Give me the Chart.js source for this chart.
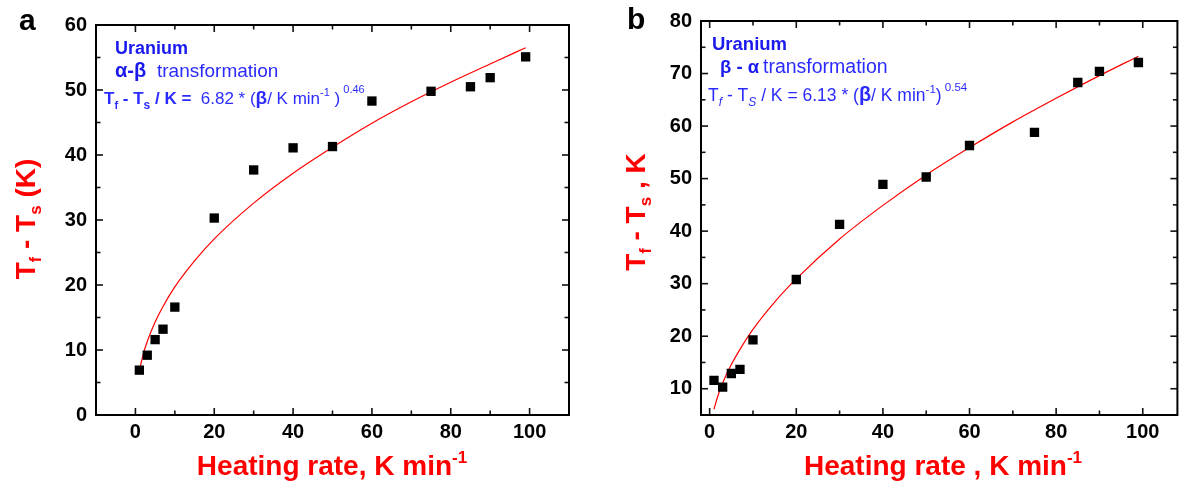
<!DOCTYPE html>
<html>
<head>
<meta charset="utf-8">
<script src="https://cdn.jsdelivr.net/npm/chart.js@4.4.1/dist/chart.umd.min.js"></script>
<style>
  html, body { margin: 0; padding: 0; background: #fff; }
  #wrap { position: relative; width: 1184px; height: 485px; overflow: hidden; }
  canvas { position: absolute; top: 0; }
</style>
</head>
<body>
<div id="wrap">
  <canvas id="chartA" width="592" height="485" style="left:0px"></canvas>
  <canvas id="chartB" width="592" height="485" style="left:592px"></canvas>
</div>
<script>
// ---------------- DATA ----------------
// Panel a: alpha -> beta transformation
const rateA  = [1, 3, 5, 7, 10, 20, 30, 40, 50, 60, 75, 85, 90, 99];
const deltaA = [6.9, 9.2, 11.6, 13.2, 16.6, 30.3, 37.7, 41.1, 41.3, 48.3, 49.8, 50.5, 51.9, 55.1];
const fitRateA = [1, 2, 3, 5, 7, 10, 15, 20, 30, 40, 50, 60, 70, 80, 90, 99];
const fitA     = [6.8, 9.4, 11.3, 14.3, 16.7, 19.7, 23.7, 27.1, 32.6, 37.2, 41.2, 44.9, 48.2, 51.2, 54.0, 56.5];

// Panel b: beta -> alpha transformation
const rateB  = [1, 3, 5, 7, 10, 20, 30, 40, 50, 60, 75, 85, 90, 99];
const deltaB = [11.6, 10.3, 12.9, 13.7, 19.3, 30.8, 41.3, 48.9, 50.3, 56.3, 58.8, 68.3, 70.4, 72.1];
const fitRateB = [1, 2, 3, 5, 7, 10, 15, 20, 30, 40, 50, 60, 70, 80, 90, 99];
const fitB     = [6.1, 8.9, 11.1, 14.6, 17.5, 21.3, 26.5, 30.9, 38.5, 44.9, 50.7, 55.9, 60.8, 65.3, 69.6, 73.3];

// Tick labels / marks
const xTicks  = [0, 20, 40, 60, 80, 100];
const xMinor  = [10, 30, 50, 70, 90];
const yTicksA = [0, 10, 20, 30, 40, 50, 60];
const yMinorA = [5, 15, 25, 35, 45, 55];
const yTicksB = [10, 20, 30, 40, 50, 60, 70, 80];
const yMinorB = [15, 25, 35, 45, 55, 65, 75];

// ---------------- HELPERS ----------------
const FF = '"Liberation Sans", Arial, Helvetica, sans-serif';
const F = (size, weight = 'normal', style = 'normal') => `${style} ${weight} ${size}px ${FF}`;
const BLUE = '#1a1aee';
const BLUE2 = '#2b2bff';
const RED = '#ff0000';

function richWidth(ctx, segs) {
  let w = 0;
  for (const s of segs) { ctx.font = s.f; w += ctx.measureText(s.t).width; }
  return w;
}
function drawRich(ctx, x, y, segs, color) {
  let cx = x;
  ctx.textAlign = 'left';
  ctx.textBaseline = 'alphabetic';
  for (const s of segs) {
    ctx.font = s.f;
    ctx.fillStyle = s.c || color;
    ctx.fillText(s.t, cx, y + (s.dy || 0));
    cx += ctx.measureText(s.t).width;
  }
}
function drawRichCentered(ctx, cx, y, segs, color) {
  const w = richWidth(ctx, segs);
  drawRich(ctx, cx - w / 2, y, segs, color);
}
function drawRichVertical(ctx, x, cy, segs, color) {
  ctx.save();
  ctx.translate(x, cy);
  ctx.rotate(-Math.PI / 2);
  const w = richWidth(ctx, segs);
  drawRich(ctx, -w / 2, 0, segs, color);
  ctx.restore();
}

function frameAndTicks(chart, xMaj, xMin, yMaj, yMin) {
  const { ctx, chartArea: a, scales: { x, y } } = chart;
  ctx.save();
  ctx.strokeStyle = '#111';
  ctx.lineWidth = 1.6;
  const line = (x1, y1, x2, y2) => { ctx.beginPath(); ctx.moveTo(x1, y1); ctx.lineTo(x2, y2); ctx.stroke(); };
  const MAJ = 7, MIN = 4.5;
  xMaj.forEach(v => { const p = x.getPixelForValue(v); line(p, a.bottom, p, a.bottom - MAJ); line(p, a.top, p, a.top + MAJ); });
  xMin.forEach(v => { const p = x.getPixelForValue(v); line(p, a.bottom, p, a.bottom - MIN); line(p, a.top, p, a.top + MIN); });
  yMaj.forEach(v => { const p = y.getPixelForValue(v); line(a.left, p, a.left + MAJ, p); line(a.right, p, a.right - MAJ, p); });
  yMin.forEach(v => { const p = y.getPixelForValue(v); line(a.left, p, a.left + MIN, p); line(a.right, p, a.right - MIN, p); });
  ctx.lineWidth = 2;
  ctx.strokeStyle = '#000';
  ctx.strokeRect(a.left, a.top, a.right - a.left, a.bottom - a.top);
  ctx.restore();
}

function makeChart(id, cfg) {
  const tickFont = { family: FF, size: 20, weight: 'bold' };
  return new Chart(document.getElementById(id), {
    type: 'scatter',
    data: {
      datasets: [
        {
          label: 'data',
          data: cfg.rate.map((r, i) => ({ x: r, y: cfg.delta[i] })),
          pointStyle: 'rect',
          pointRadius: 6.6,
          pointHoverRadius: 6.6,
          backgroundColor: '#000',
          borderColor: '#000',
          borderWidth: 0,
          showLine: false,
          order: 1
        },
        {
          label: 'fit',
          data: cfg.fitRate.map((r, i) => ({ x: r, y: cfg.fit[i] })),
          showLine: true,
          pointRadius: 0,
          borderColor: RED,
          borderWidth: 1.2,
          cubicInterpolationMode: 'monotone',
          fill: false,
          order: 2
        }
      ]
    },
    options: {
      responsive: false,
      animation: false,
      devicePixelRatio: 1,
      events: [],
      layout: { padding: cfg.padding },
      plugins: { legend: { display: false }, tooltip: { enabled: false } },
      scales: {
        x: {
          type: 'linear', position: 'bottom',
          min: cfg.xMin, max: cfg.xMax,
          afterBuildTicks: s => { s.ticks = xTicks.map(v => ({ value: v })); },
          afterFit: s => { s.height = 70; },
          grid: { display: false, drawTicks: false },
          border: { display: false },
          ticks: { font: tickFont, color: '#000', padding: 5, maxRotation: 0, autoSkip: false }
        },
        y: {
          type: 'linear', position: 'left',
          min: cfg.yMin, max: cfg.yMax,
          afterBuildTicks: s => { s.ticks = cfg.yTicks.map(v => ({ value: v })); },
          afterFit: s => { s.width = cfg.yWidth; },
          grid: { display: false, drawTicks: false },
          border: { display: false },
          ticks: { font: tickFont, color: '#000', padding: 9, autoSkip: false }
        }
      }
    },
    plugins: [{
      id: 'decor_' + id,
      afterDraw(chart) {
        frameAndTicks(chart, xTicks, xMinor, cfg.yTicks, cfg.yMinor);
        cfg.decorate(chart.ctx, chart);
      }
    }]
  });
}

// ---------------- PANEL a ----------------
makeChart('chartA', {
  rate: rateA, delta: deltaA, fitRate: fitRateA, fit: fitA,
  xMin: -10, xMax: 110, yMin: 0, yMax: 60,
  yTicks: yTicksA, yMinor: yMinorA,
  yWidth: 96,
  padding: { left: 0, top: 25, right: 23, bottom: 0 },
  decorate(ctx, chart) {
    ctx.save();
    drawRich(ctx, 19, 30, [{ t: 'a', f: F(30, 'bold') }], '#000');
    drawRich(ctx, 115, 54, [{ t: 'Uranium', f: F(18, 'bold') }], BLUE);
    drawRich(ctx, 115, 77, [{ t: 'α-β', f: F(20, 'bold') }], BLUE);
    drawRich(ctx, 157, 77, [{ t: 'transformation', f: F(19) }], BLUE2);
    drawRich(ctx, 104, 104, [
      { t: 'T', f: F(17, 'bold') },
      { t: 'f', f: F(11, 'bold'), dy: 5 },
      { t: ' - T', f: F(17, 'bold') },
      { t: 's', f: F(12, 'bold'), dy: 5 },
      { t: ' / K = ', f: F(17, 'bold') },
      { t: ' 6.82 * (', f: F(17) },
      { t: 'β', f: F(19, 'bold') },
      { t: '/ K min', f: F(17) },
      { t: '-1', f: F(11), dy: -8 },
      { t: ' )', f: F(17) },
      { t: ' 0.46', f: F(11), dy: -11 }
    ], BLUE2);
    drawRichCentered(ctx, 332, 475, [
      { t: 'Heating rate, K min', f: F(28, 'bold') },
      { t: '-1', f: F(17, 'bold'), dy: -12 }
    ], RED);
    drawRichVertical(ctx, 35, 219, [
      { t: 'T', f: F(28, 'bold') },
      { t: 'f', f: F(16, 'bold'), dy: 6 },
      { t: ' - T', f: F(28, 'bold') },
      { t: 's', f: F(17, 'bold'), dy: 6 },
      { t: ' (K)', f: F(28, 'bold') }
    ], RED);
    ctx.restore();
  }
});

// ---------------- PANEL b ----------------
makeChart('chartB', {
  rate: rateB, delta: deltaB, fitRate: fitRateB, fit: fitB,
  xMin: -2, xMax: 108, yMin: 5, yMax: 80,
  yTicks: yTicksB, yMinor: yMinorB,
  yWidth: 109,
  padding: { left: 0, top: 15, right: 6, bottom: 0 },
  decorate(ctx, chart) {
    ctx.save();
    drawRich(ctx, 35, 29, [{ t: 'b', f: F(30, 'bold') }], '#000');
    drawRich(ctx, 120, 50, [{ t: 'Uranium', f: F(18.5, 'bold') }], BLUE);
    drawRich(ctx, 128, 73, [{ t: 'β - α', f: F(18.5, 'bold') }], BLUE);
    drawRich(ctx, 171, 73, [{ t: 'transformation', f: F(19.5) }], BLUE2);
    drawRich(ctx, 116, 101, [
      { t: 'T', f: F(17.5) },
      { t: 'f', f: F(12, 'normal', 'italic'), dy: 5 },
      { t: ' - T', f: F(17.5) },
      { t: 'S', f: F(12, 'normal', 'italic'), dy: 5 },
      { t: ' / K = 6.13 * (', f: F(17.5) },
      { t: 'β', f: F(20, 'bold') },
      { t: '/ K min', f: F(17.5) },
      { t: '-1', f: F(11.5), dy: -8 },
      { t: ')', f: F(17.5) },
      { t: ' 0.54', f: F(11.5), dy: -10 }
    ], BLUE2);
    drawRichCentered(ctx, 351, 475, [
      { t: 'Heating rate , K min', f: F(28, 'bold') },
      { t: '-1', f: F(17, 'bold'), dy: -12 }
    ], RED);
    drawRichVertical(ctx, 53, 212, [
      { t: 'T', f: F(28, 'bold') },
      { t: 'f', f: F(16, 'bold'), dy: 6 },
      { t: ' - T', f: F(28, 'bold') },
      { t: 's', f: F(17, 'bold'), dy: 6 },
      { t: ' , K', f: F(28, 'bold') }
    ], RED);
    ctx.restore();
  }
});
</script>
</body>
</html>
